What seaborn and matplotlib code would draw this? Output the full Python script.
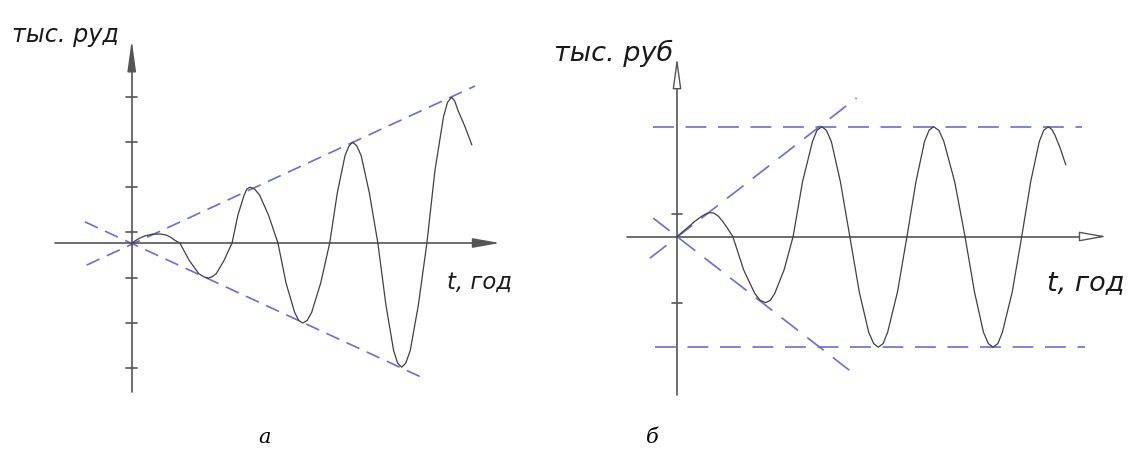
import matplotlib
matplotlib.use("Agg")
import matplotlib.pyplot as plt
from matplotlib import font_manager
import seaborn as sns

# panel a: growing oscillations (units: one tick step)
a_x = [0, 0.08, 0.18, 0.30, 0.45, 0.63, 0.76, 0.86, 0.96, 1.07,
       1.28, 1.49, 1.60, 1.70, 1.79, 1.88, 2.05, 2.23,
       2.36, 2.50, 2.56, 2.63, 2.73, 2.84, 3.04, 3.25,
       3.43, 3.62, 3.71, 3.80, 3.90, 4.00, 4.20, 4.40,
       4.57, 4.74, 4.83, 4.91, 5.00, 5.10, 5.28, 5.47,
       5.65, 5.82, 5.91, 6.00, 6.09, 6.19, 6.37, 6.56,
       6.74, 6.93, 7.02, 7.11, 7.18, 7.25, 7.40, 7.56]
a_y = [0, 0.05, 0.11, 0.16, 0.195, 0.20, 0.18, 0.13, 0.06, 0,
       -0.39, -0.68, -0.75, -0.78, -0.75, -0.68, -0.39, 0,
       0.62, 1.07, 1.20, 1.24, 1.20, 1.07, 0.62, 0,
       -0.89, -1.54, -1.72, -1.78, -1.72, -1.54, -0.89, 0,
       1.12, 1.94, 2.16, 2.24, 2.16, 1.94, 1.12, 0,
       -1.38, -2.39, -2.67, -2.76, -2.67, -2.39, -1.38, 0,
       1.62, 2.81, 3.13, 3.24, 3.15, 2.95, 2.60, 2.18]
a_upper = ([-1.00, 7.63], [-0.49, 3.49])
a_lower = ([-1.04, 6.52], [0.47, -3.02])
a_ticks = [3.24, 2.24, 1.24, 0.24, -0.78, -1.78, -2.78]

# panel b: oscillations settling to constant amplitude
b_x = [0, 0.12, 0.25, 0.40, 0.55, 0.64, 0.73, 0.82, 0.92, 1.02, 1.13, 1.24,
       1.48, 1.73, 1.85, 1.97, 2.07, 2.17, 2.38, 2.58,
       2.79, 3.01, 3.11, 3.22, 3.32, 3.43, 3.63, 3.84,
       4.05, 4.26, 4.37, 4.47, 4.58, 4.68, 4.90, 5.11,
       5.31, 5.50, 5.60, 5.70, 5.82, 5.93, 6.17, 6.40,
       6.61, 6.81, 6.92, 7.02, 7.13, 7.23, 7.45, 7.66,
       7.86, 8.05, 8.15, 8.25, 8.33, 8.40, 8.52, 8.64]
b_y = [0, 0.10, 0.21, 0.34, 0.45, 0.50, 0.53, 0.52, 0.45, 0.33, 0.17, 0,
       -0.74, -1.27, -1.42, -1.47, -1.42, -1.27, -0.74, 0,
       1.22, 2.11, 2.36, 2.44, 2.36, 2.11, 1.22, 0,
       -1.23, -2.13, -2.38, -2.46, -2.38, -2.13, -1.23, 0,
       1.22, 2.11, 2.36, 2.44, 2.36, 2.11, 1.22, 0,
       -1.23, -2.13, -2.38, -2.46, -2.38, -2.13, -1.23, 0,
       1.22, 2.11, 2.36, 2.44, 2.38, 2.25, 1.95, 1.59]
b_top = ([-0.54, 8.99], [2.44, 2.44])
b_bottom = ([-0.49, 9.07], [-2.46, -2.46])
b_rise = ([-0.60, 3.99], [-0.48, 3.08])
b_fall = ([-0.53, 4.02], [0.41, -3.12])
b_ticks = [0.5, -1.47]

W, H = 1129, 451
sns.set_theme(style="white")
plt.rcParams["font.family"] = ["DejaVu Sans"]
fig = plt.figure(figsize=(W / 100, H / 100), dpi=100)

def px(x, y):
    return x / W, 1 - y / H

blue = "#6b6bdc"
axis_c = "#555555"
curve_c = "#404040"

def draw_panel(ax, xs, ys, dashed, dash, ticks, xaxis, yaxis, hollow):
    for lx, ly in dashed:
        sns.lineplot(x=lx, y=ly, ax=ax, color=blue, lw=1.2,
                     linestyle=(0, dash), sort=False, estimator=None)
    ax.plot([xaxis[0], xaxis[1] - 0.25], [0, 0], color=axis_c, lw=1.2)
    ax.plot([0, 0], [yaxis[0], yaxis[1] - 0.5], color=axis_c, lw=1.2)
    fc = "white" if hollow else axis_c
    ax.annotate("", xy=(xaxis[1], 0), xytext=(xaxis[1] - 0.35, 0),
                arrowprops=dict(arrowstyle="-|>,head_length=1.4,head_width=0.25",
                                color=axis_c, fc=fc, lw=1.0, shrinkA=0, shrinkB=0))
    ax.annotate("", xy=(0, yaxis[1]), xytext=(0, yaxis[1] - 0.6),
                arrowprops=dict(arrowstyle="-|>,head_length=1.6,head_width=0.22",
                                color=axis_c, fc=fc, lw=1.0, shrinkA=0, shrinkB=0))
    for t in ticks:
        ax.plot([-0.12, 0.12], [t, t], color=axis_c, lw=1.2)
    sns.lineplot(x=xs, y=ys, ax=ax, color=curve_c, lw=0.9,
                 sort=False, estimator=None)
    ax.set_axis_off()

ax_a = fig.add_axes([0, 0, 560 / W, 1])
ax_a.set_xlim(-2.927, 9.518)
ax_a.set_ylim(-4.622, 5.4)
draw_panel(ax_a, a_x, a_y, [a_upper, a_lower], (8.5, 4.8), a_ticks,
           (-1.70, 8.18), (-3.31, 4.51), False)

ax_b = fig.add_axes([560 / W, 0, 569 / W, 1])
ax_b.set_xlim(-2.6, 10.044)
ax_b.set_ylim(-4.767, 5.256)
draw_panel(ax_b, b_x, b_y, [b_top, b_bottom, b_rise, b_fall], (12.5, 7.0), b_ticks,
           (-1.11, 9.55), (-3.52, 3.99), True)

# narrow italic font for the drawing labels
names = {f.name for f in font_manager.fontManager.ttflist}
if "Liberation Sans Narrow" in names:
    lab_family, k = ["Liberation Sans Narrow", "DejaVu Sans"], 1.0
else:
    lab_family, k = ["DejaVu Sans"], 0.78

lab = dict(family=lab_family, style="italic", color="#1a1a1a", va="baseline")
fig.text(*px(12, 42), "тыс. руд", fontsize=22 * k, ha="left", **lab)
fig.text(*px(554, 61), "тыс. руб", fontsize=25 * k, ha="left", **lab)
fig.text(*px(447, 289), "t, год", fontsize=21 * k, ha="left", **lab)
fig.text(*px(1047, 290), "t, год", fontsize=25 * k, ha="left", **lab)

cap = dict(family="DejaVu Serif", style="italic", fontsize=15, color="black",
           ha="center", va="baseline")
fig.text(*px(265, 443), "а", **cap)
fig.text(*px(652, 443), "б", **cap)

fig.savefig("out.png", dpi=100, facecolor="white")
